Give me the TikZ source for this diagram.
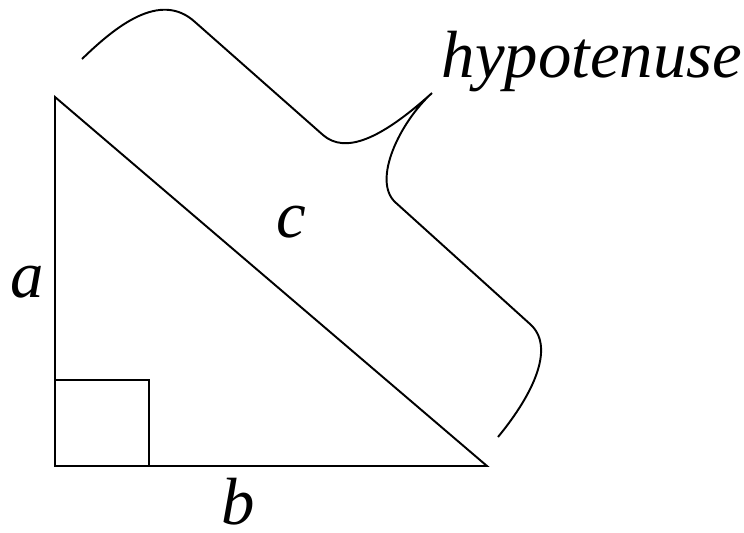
\documentclass[tikz,border=0pt]{standalone}
\usepackage{fontspec}
\setmainfont{Liberation Serif}[ItalicFont={Liberation Serif Italic}]
\tikzset{lbl/.style={inner sep=0pt, anchor=base west, font=\fontsize{38}{40}\selectfont\itshape}}
\begin{document}
\begin{tikzpicture}[x=0.02cm, y=-0.02cm, line width=1.1pt]
        \useasboundingbox (0,0) rectangle (744,532);
        \coordinate (A) at (55,97);
        \coordinate (C) at (55,466);
        \coordinate (B) at (487,466);
        \draw (A) -- (C) -- (B) -- cycle;
        \draw (55,380) rectangle (149,466);
        \node [lbl] (la) at (10,297) {a};
        \node [lbl] (lb) at (221,524) {b};
        \node [lbl] (lc) at (276,237) {c};
        \node [lbl] (lh) at (441,77) {hypotenuse};
        \draw (82,59) .. controls (115,27) and (160,-10) .. (195,22) -- (323,135)
              .. controls (345,154) and (380,140) .. (432,93)
              .. controls (400,122) and (372,180) .. (395,202) -- (530,324)
              .. controls (555,346) and (535,392) .. (498,437);
    \end{tikzpicture}
\end{document}
